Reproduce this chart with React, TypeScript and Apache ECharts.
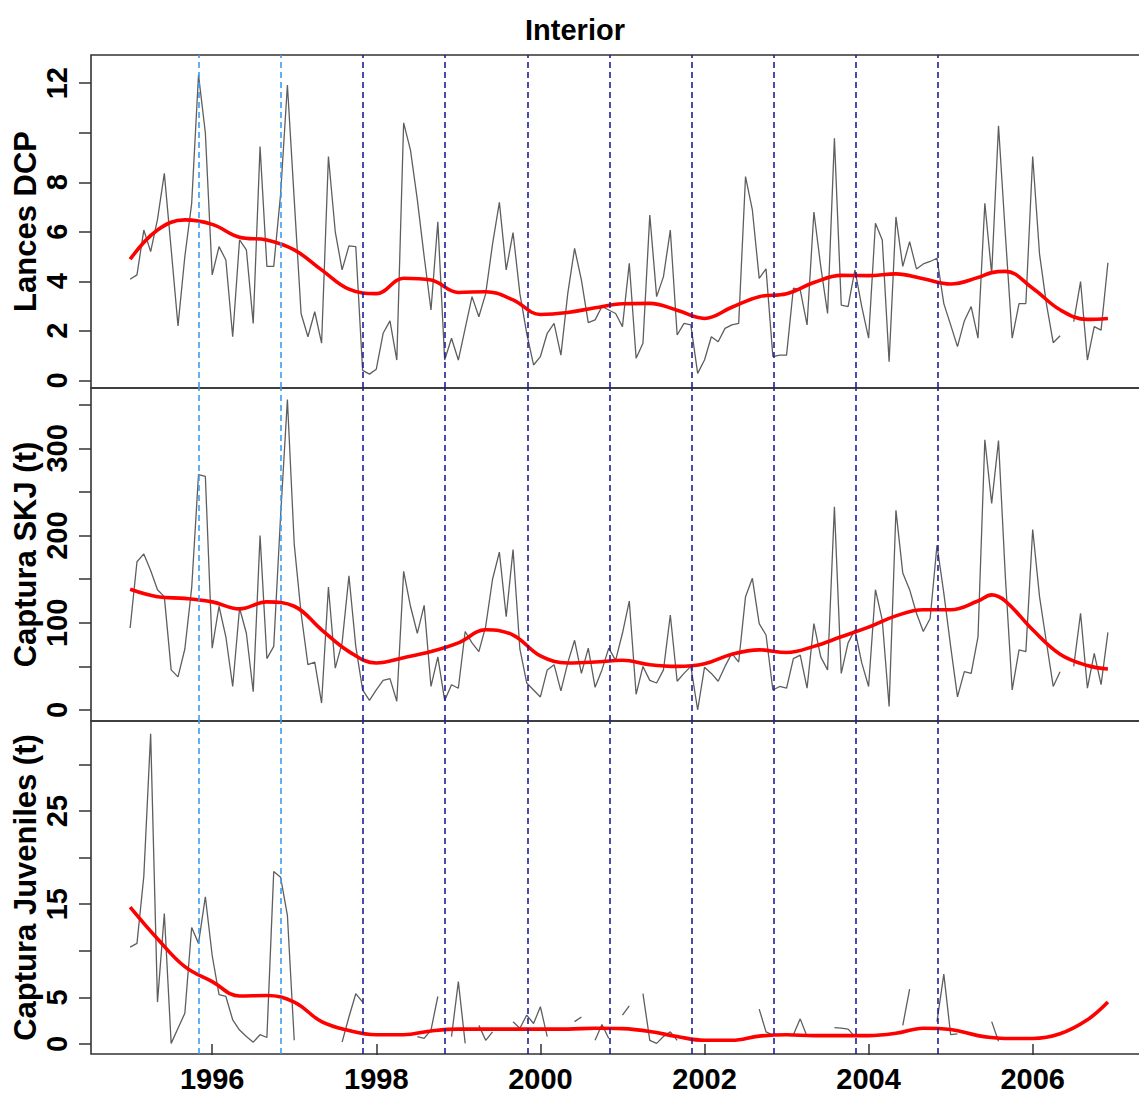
import React, { useEffect, useRef } from "react";
import * as echarts from "echarts";

const START_YEAR = 1995;
const MONTHS = 144;

// Monthly gray series (Jan 1995 .. Dec 2006); null = missing
const lances = [
  4.08, 4.26, 6.07, 5.2, 6.5, 8.36, 5.3, 2.2, 5.0, 7.15, 12.34, 10.0,
  4.26, 5.4, 4.86, 1.76, 5.67, 5.27, 2.3, 9.44, 4.6, 4.6, 7.5, 11.93,
  7.3, 2.7, 1.76, 2.77, 1.5, 9.04, 6.0, 4.46, 5.43, 5.4, 0.4, 0.25,
  0.45, 1.9, 2.4, 0.82, 10.4, 9.3, 7.3, 5.0, 2.84, 6.4, 0.82, 1.7,
  0.82, 2.1, 3.38, 2.57, 3.5, 5.5, 7.19, 4.46, 5.97, 3.5, 1.9, 0.62,
  0.96, 1.9, 2.3, 1.02, 3.5, 5.33, 4.05, 2.33, 2.44, 2.98, 2.84, 2.7,
  2.17, 4.73, 0.89, 1.5, 6.68, 3.38, 4.19, 6.07, 1.83, 2.3, 2.24, 0.28,
  0.82, 1.76, 1.56, 2.1, 2.24, 2.3, 8.23, 6.88, 4.12, 4.5, 0.96, 1.02,
  1.02, 3.72, 3.65, 2.24, 6.8, 4.6, 2.7, 9.78, 3.04, 2.98, 4.46, 2.98,
  1.7, 6.34, 5.67, 0.75, 6.6, 4.6, 5.6, 4.5, 4.7, 4.8, 4.93, 3.1,
  2.24, 1.36, 2.4, 2.98, 1.7, 7.15, 4.3, 10.28, 5.9, 1.7, 3.1, 3.1,
  9.04, 5.1, 3.1, 1.52, 1.8, null, 2.37, 3.99, 0.82, 2.17, 2.03, 4.75,
];

const skj = [
  94, 170, 179, 160, 138, 130, 46, 38, 70, 140, 270, 268,
  71, 119, 84, 27, 117, 88, 21, 200, 59, 73, 222, 356,
  190, 111, 52, 55, 8, 141, 48, 77, 154, 73, 23, 11,
  23, 34, 36, 10, 159, 119, 88, 120, 27, 61, 11, 29,
  25, 90, 77, 67, 96, 150, 181, 107, 184, 70, 31, 23,
  15, 46, 52, 22, 54, 80, 42, 71, 26, 46, 71, 57,
  88, 125, 18, 50, 34, 31, 46, 109, 33, 42, 50, 0,
  49, 42, 33, 50, 65, 55, 130, 151, 99, 86, 23, 27,
  25, 59, 63, 25, 99, 61, 46, 233, 42, 77, 92, 54,
  27, 138, 103, 4, 229, 157, 138, 111, 90, 105, 189, 134,
  73, 15, 44, 42, 84, 310, 237, 309, 153, 23, 69, 67,
  207, 130, 78, 27, 44, null, 50, 111, 25, 65, 29, 89,
];

const juveniles = [
  10.4, 10.8, 18, 33.3, 4.5, 14.0, 0.07, 1.7, 3.3, 12.5, 10.8, 15.8,
  9.5, 5.3, 5.1, 2.6, 1.5, 0.8, 0.2, 1.0, 0.7, 18.5, 17.9, 13.8,
  0.4, null, null, null, null, null, null, 0.2, 2.9, 5.4, 4.5, null,
  null, null, null, null, null, null, 0.8, 0.6, 1.5, 5.1, null, 0.8,
  6.7, 0.07, null, 2.0, 0.4, 1.3, null, null, 2.4, 1.7, 3.1, 2.2,
  4.0, 0.8, null, null, null, 2.4, 2.9, null, 0.4, 2.1, 0.6, null,
  3.1, 4.1, null, 5.4, 0.4, 0.07, 0.8, 1.3, 0.4, null, null, null,
  null, null, null, null, null, null, null, null, 3.75, 1.3, 0.95, null,
  null, 1.0, 2.7, 0.8, null, null, null, 1.75, 1.7, 1.6, 0.8, null,
  null, null, null, null, null, 2.0, 5.9, null, null, null, 2.4, 7.5,
  1.0, 1.1, null, null, null, null, 2.4, 0.3, null, null, null, null,
  null, null, null, null, null, null, null, null, null, null, null, null,
];

// Smooth (red) curves read at these month indices
const smoothMonthIdx = [
  0, 4, 8, 12, 16, 20, 24, 28, 32, 36, 40, 44, 48, 52, 56, 60, 64, 68, 72, 76,
  80, 84, 88, 92, 96, 100, 104, 108, 112, 116, 120, 124, 126, 128, 132, 136, 140, 143,
];
const lancesSmooth = [
  4.89, 6.07, 6.48, 6.3, 5.78, 5.67, 5.27, 4.46, 3.68, 3.5, 4.12, 4.05, 3.55,
  3.58, 3.25, 2.66, 2.74, 2.93, 3.09, 3.11, 2.83, 2.5, 2.95, 3.38, 3.5, 3.95,
  4.24, 4.23, 4.3, 4.1, 3.89, 4.15, 4.35, 4.4, 3.72, 2.85, 2.46, 2.5,
];
const skjSmooth = [
  138.5, 130, 128, 124, 116, 124, 119, 92, 67, 54, 60, 67, 77, 92, 86, 62, 54,
  55, 57, 52, 50, 53, 64, 69, 66, 73, 84, 95, 108, 115, 115, 125, 132, 125, 92,
  64, 51, 47,
];
const juvSmooth = [
  14.7, 11.3, 8.3, 6.7, 5.15, 5.2, 4.5, 2.4, 1.45, 1.0, 1.0, 1.4, 1.6, 1.6, 1.6,
  1.6, 1.6, 1.7, 1.65, 1.35, 0.8, 0.4, 0.4, 0.85, 1.0, 0.9, 0.9, 0.9, 1.15, 1.7,
  1.55, 0.9, 0.7, 0.6, 0.6, 1.1, 2.6, 4.5,
];

// Vertical reference lines (November of each year)
const lightLines = [1995.84, 1996.84];
const darkLines = [1997.84, 1998.84, 1999.84, 2000.84, 2001.84, 2002.84, 2003.84, 2004.84];

const xTicks = [1996, 1998, 2000, 2002, 2004, 2006];
const topTicks = [0, 2, 4, 6, 8, 10, 12];
const topLabels = [0, 2, 4, 6, 8, 12];
const midTicks = [0, 50, 100, 150, 200, 250, 300, 350];
const midLabels = [0, 100, 200, 300];
const botTicks = [0, 5, 10, 15, 20, 25, 30];
const botLabels = [0, 5, 15, 25];

const panelNames = ["Lances DCP", "Captura SKJ (t)", "Captura Juveniles (t)"];

const FONT = "Liberation Sans";

export default function App() {
  const ref = useRef<HTMLDivElement>(null);
  useEffect(() => {
    if (!ref.current) return;
    const chart = echarts.init(ref.current, null, { renderer: "svg" });
    const t = (i: number) => START_YEAR + i / 12;
    const monthly = (arr: (number | null)[]) =>
      arr.slice(0, MONTHS).map((v, i) => [t(i), v == null ? null : v]);
    const smooth = (arr: number[]) => arr.map((v, k) => [t(smoothMonthIdx[k]), v]);

    const grids = [
      { left: 91, right: 3, top: 55, height: 333 },
      { left: 91, right: 3, top: 388, height: 333 },
      { left: 91, right: 3, top: 721, height: 333 },
    ].map((g) => ({
      ...g,
      show: true,
      containLabel: false,
      outerBoundsMode: "none",
      borderColor: "#333",
      borderWidth: 1.6,
      backgroundColor: "transparent",
    }));

    const xAxes = [0, 1, 2].map((k) => ({
      type: "value",
      gridIndex: k,
      min: 1994.523,
      max: 2007.393,
      show: k === 2,
      axisLine: { show: false },
      splitLine: { show: false },
      axisTick: {
        show: true,
        customValues: xTicks,
        length: 11,
        lineStyle: { color: "#333", width: 1.5 },
      },
      axisLabel: {
        show: true,
        customValues: xTicks,
        formatter: (v: number) => String(Math.round(v)),
        margin: 10,
        fontFamily: FONT,
        fontWeight: "bold",
        fontSize: 29,
        color: "#000",
      },
    }));

    const yDefs = [
      { min: -0.31, max: 13.14, ticks: topTicks, labels: topLabels },
      { min: -12.6, max: 369.3, ticks: midTicks, labels: midLabels },
      { min: -1.07, max: 34.66, ticks: botTicks, labels: botLabels },
    ];
    const yAxes = yDefs.map((d, k) => ({
      type: "value",
      gridIndex: k,
      min: d.min,
      max: d.max,
      name: panelNames[k],
      nameLocation: "middle",
      nameRotate: 90,
      nameGap: 50,
      nameMoveOverlap: false,
      nameTextStyle: { fontFamily: FONT, fontWeight: "bold", fontSize: 31, color: "#000" },
      axisLine: { show: false },
      splitLine: { show: false },
      axisTick: {
        show: true,
        customValues: d.ticks,
        length: 12,
        lineStyle: { color: "#333", width: 1.5 },
      },
      axisLabel: {
        show: true,
        customValues: d.labels,
        formatter: (v: number) => String(Math.round(v)),
        rotate: 90,
        margin: 20,
        fontFamily: FONT,
        fontWeight: "bold",
        fontSize: 29,
        color: "#000",
      },
    }));

    const series: any[] = [];
    const grays = [lances, skj, juveniles];
    const reds = [lancesSmooth, skjSmooth, juvSmooth];
    [0, 1, 2].forEach((k) => {
      series.push({
        type: "line",
        xAxisIndex: k,
        yAxisIndex: k,
        data: monthly(grays[k]),
        showSymbol: false,
        connectNulls: false,
        lineStyle: { color: "#5e5e5e", width: 1.3 },
        z: 2,
      });
      series.push({
        type: "line",
        xAxisIndex: k,
        yAxisIndex: k,
        data: [],
        showSymbol: false,
        z: 3,
        markLine: {
          silent: true,
          symbol: "none",
          label: { show: false },
          data: [
            ...lightLines.map((x) => ({ xAxis: x, lineStyle: { color: "#3a9cf5", width: 1.6, type: [6, 4] } })),
            ...darkLines.map((x) => ({ xAxis: x, lineStyle: { color: "#20209a", width: 1.6, type: [6, 4] } })),
          ],
        },
      });
      series.push({
        type: "line",
        xAxisIndex: k,
        yAxisIndex: k,
        data: smooth(reds[k]),
        showSymbol: false,
        smooth: 0.4,
        lineStyle: { color: "#ff0000", width: 3.6 },
        z: 4,
      });
    });

    chart.setOption({
      animation: false,
      backgroundColor: "#fff",
      title: {
        text: "Interior",
        left: "center",
        top: 10,
        textStyle: { fontFamily: FONT, fontWeight: "bold", fontSize: 29, color: "#000" },
      },
      grid: grids,
      xAxis: xAxes,
      yAxis: yAxes,
      series,
    });
    return () => chart.dispose();
  }, []);

  return (
    <div style={{ position: "absolute", left: 0, top: 0, width: 1139, height: 1093, overflow: "hidden", background: "#fff" }}>
      <div ref={ref} style={{ width: 1150, height: 1093 }} />
    </div>
  );
}
